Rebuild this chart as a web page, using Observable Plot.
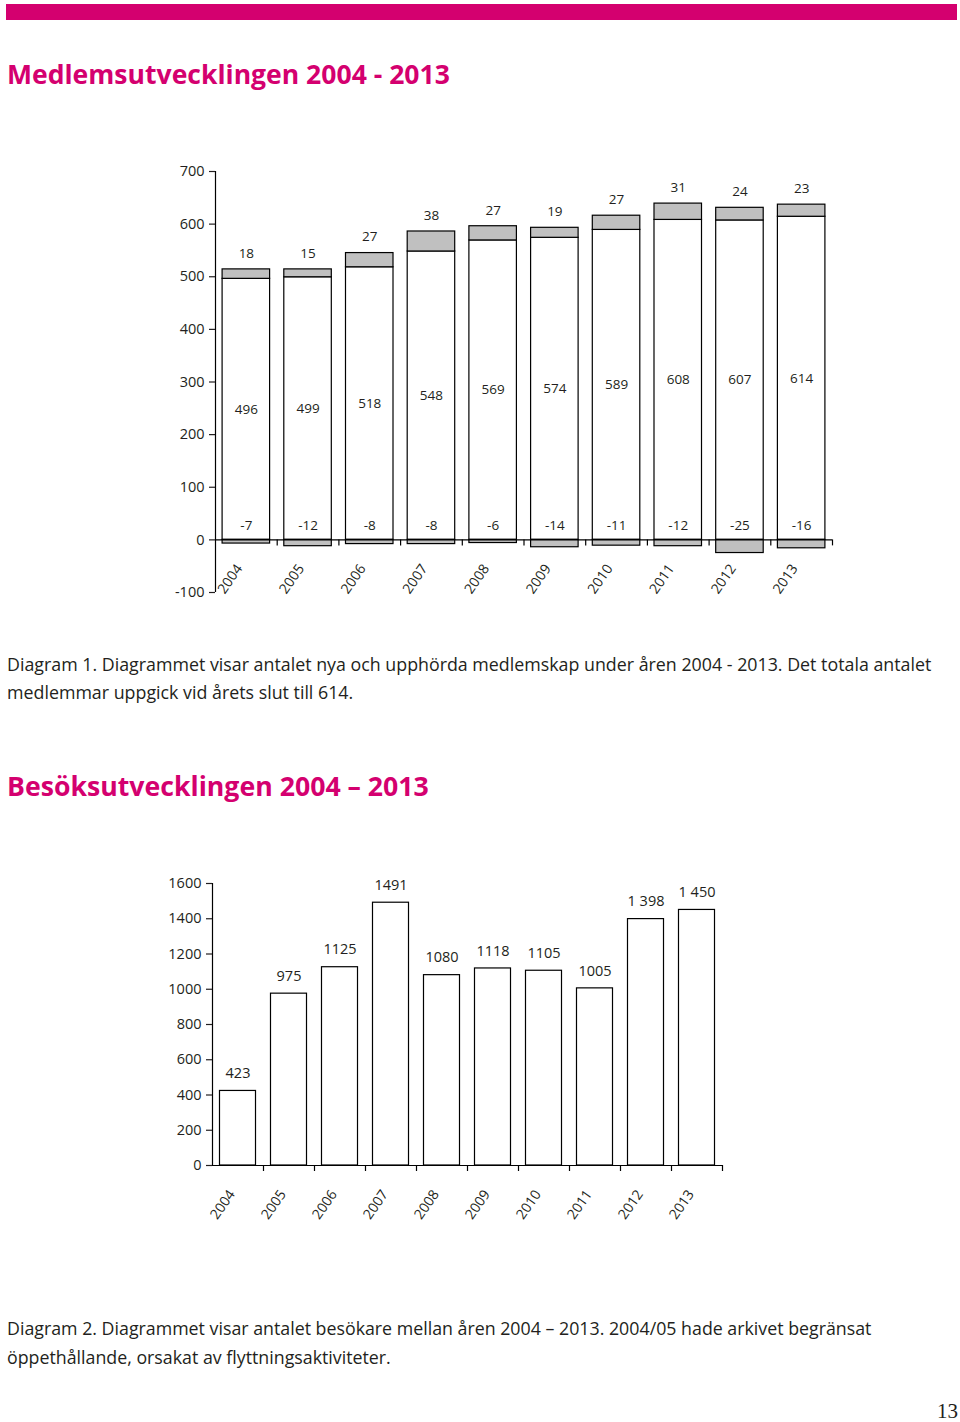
<!DOCTYPE html>
<html><head><meta charset="utf-8">
<script src="https://cdn.jsdelivr.net/npm/d3@7"></script>
<script src="https://cdn.jsdelivr.net/npm/@observablehq/plot@0.6"></script>
<style>
html,body{margin:0;padding:0;background:#fff;overflow:hidden}
#page{position:relative;width:960px;height:1422px;font-family:"Open Sans",sans-serif;color:#231f20;overflow:hidden}
.abs{position:absolute;white-space:nowrap;line-height:1}
.title{color:#d4006f;font-weight:700}
.band{position:absolute;left:6px;top:4px;width:951px;height:16px;background:#d4006f}
.chart{position:absolute;left:0}
</style></head><body><div id="page"><div class="band"></div></div>
<script>
// ---------- data ----------
const years = ["2004","2005","2006","2007","2008","2009","2010","2011","2012","2013"];
const members = [496, 499, 518, 548, 569, 574, 589, 608, 607, 614];
const newMembers = [18, 15, 27, 38, 27, 19, 27, 31, 24, 23];
const endedMembers = [-7, -12, -8, -8, -6, -14, -11, -12, -25, -16];
const memberTicks = [-100, 0, 100, 200, 300, 400, 500, 600, 700];

const visitors = [423, 975, 1125, 1491, 1080, 1118, 1105, 1005, 1398, 1450];
const visitorLabels = ["423", "975", "1125", "1491", "1080", "1118", "1105", "1005", "1 398", "1 450"];
const visitorTicks = [0, 200, 400, 600, 800, 1000, 1200, 1400, 1600];

const title1 = "Medlemsutvecklingen 2004 - 2013";
const caption1 = ["Diagram 1. Diagrammet visar antalet nya och upphörda medlemskap under åren 2004 - 2013. Det totala antalet",
                  "medlemmar uppgick vid årets slut till 614."];
const title2 = "Besöksutvecklingen 2004 – 2013";
const caption2 = ["Diagram 2. Diagrammet visar antalet besökare mellan åren 2004 – 2013. 2004/05 hade arkivet begränsat",
                  "öppethållande, orsakat av flyttningsaktiviteter."];
const pageNumber = "13";

// ---------- page text ----------
const page = document.getElementById("page");
function addText(txt, cls, left, baseline, targetWidth, size, ascentRatio = 0.888) {
  const el = document.createElement("div");
  el.className = "abs " + cls;
  el.textContent = txt;
  el.style.left = left + "px";
  el.style.fontSize = "100px";
  page.appendChild(el);
  let fs = size;
  if (targetWidth) fs = 100 * targetWidth / el.getBoundingClientRect().width;
  el.style.fontSize = fs + "px";
  el.style.top = (baseline - ascentRatio * fs) + "px";
  return fs;
}
addText(title1, "title", 7, 85, 443);
const c1 = addText(caption1[0], "", 7, 671.5, 925);
addText(caption1[1], "", 7, 700, null, c1);
addText(title2, "title", 7, 797, 422);
const c2 = addText(caption2[0], "", 7, 1336, 865);
addText(caption2[1], "", 7, 1365, null, c2);
const pn = document.createElement("div");
pn.className = "abs";
pn.textContent = pageNumber;
pn.style.cssText += "font-family:'Liberation Serif',serif;font-size:21px;left:937px;top:" + (1419 - 0.8375 * 21) + "px";
page.appendChild(pn);

// ---------- chart 1 ----------
const gray = "#c0c0c0";
const ink = "#231f20";
const font = "'Open Sans', sans-serif";
const fmt = d => String(d);
const rows = years.map((year, i) => ({year, base: members[i], add: newMembers[i], lost: endedMembers[i]}));

const W = 960;
const ml1 = 215, mr1 = 128;
const step1 = (W - ml1 - mr1) / years.length;
const chart1 = Plot.plot({
  width: W, height: 470,
  marginTop: 21, marginBottom: 28, marginLeft: ml1, marginRight: mr1,
  style: {fontFamily: font, fontSize: "14px", color: ink, background: "transparent", overflow: "visible"},
  x: {domain: years, paddingInner: 0.23, paddingOuter: 0.115, round: false, axis: null},
  y: {domain: [-100, 700], label: null},
  marks: [
    Plot.barY(rows, {x: "year", y1: 0, y2: "base", fill: "white", stroke: "black", strokeWidth: 1.2}),
    Plot.barY(rows, {x: "year", y1: "base", y2: d => d.base + d.add, fill: gray, stroke: "black", strokeWidth: 1.2}),
    Plot.barY(rows, {x: "year", y1: 0, y2: "lost", fill: gray, stroke: "black", strokeWidth: 1.2}),
    Plot.ruleY([0], {stroke: "black", strokeWidth: 1.2}),
    Plot.ruleX(years, {x: d => d, y1: 0, y2: 0, insetBottom: -6, dx: step1 / 2, stroke: "black", strokeWidth: 1.2}),
    Plot.ruleX([years[0]], {x: d => d, y1: -100, y2: 700, dx: -step1 / 2, stroke: "black", strokeWidth: 1.2}),
    Plot.axisY({ticks: memberTicks, tickFormat: fmt, tickSize: 6, tickPadding: 5, label: null, fontSize: 14.5, strokeWidth: 1.2}),
    Plot.text(years, {x: d => d, y: 0, text: d => d, rotate: -55, textAnchor: "end", dx: -7, dy: 26, fontSize: 14, fill: ink}),
    Plot.text(rows, {x: "year", y: d => d.base / 2, text: d => String(d.base), fontSize: 13.5, fill: ink}),
    Plot.text(rows, {x: "year", y: d => d.base + d.add, text: d => String(d.add), dy: -16, fontSize: 13.5, fill: ink}),
    Plot.text(rows, {x: "year", y: 0, text: d => String(d.lost), dy: -14, fontSize: 13.5, fill: ink})
  ]
});
chart1.classList.add("chart");
chart1.style.top = "150px";
chart1.style.position = "absolute";
page.appendChild(chart1);

// ---------- chart 2 ----------
const vrows = years.map((year, i) => ({year, value: visitors[i], label: visitorLabels[i]}));
const ml2 = 212, mr2 = 238;
const step2 = (W - ml2 - mr2) / years.length;
const chart2 = Plot.plot({
  width: W, height: 364,
  marginTop: 23, marginBottom: 59, marginLeft: ml2, marginRight: mr2,
  style: {fontFamily: font, fontSize: "14px", color: ink, background: "transparent", overflow: "visible"},
  x: {domain: years, paddingInner: 0.294, paddingOuter: 0.147, round: false, axis: null},
  y: {domain: [0, 1600], label: null},
  marks: [
    Plot.barY(vrows, {x: "year", y: "value", fill: "white", stroke: "black", strokeWidth: 1.2}),
    Plot.ruleY([0], {stroke: "black", strokeWidth: 1.2}),
    Plot.ruleX(years, {x: d => d, y1: 0, y2: 0, insetBottom: -6, dx: step2 / 2, stroke: "black", strokeWidth: 1.2}),
    Plot.ruleX([years[0]], {x: d => d, y1: 0, y2: 1600, dx: -step2 / 2, stroke: "black", strokeWidth: 1.2}),
    Plot.axisY({ticks: visitorTicks, tickFormat: fmt, tickSize: 6, tickPadding: 5, label: null, fontSize: 14.5, strokeWidth: 1.2}),
    Plot.text(years, {x: d => d, y: 0, text: d => d, rotate: -55, textAnchor: "end", dx: -6, dy: 26, fontSize: 14, fill: ink}),
    Plot.text(vrows, {x: "year", y: "value", text: "label", dy: -17.5, fontSize: 14.5, fill: ink})
  ]
});
chart2.classList.add("chart");
chart2.style.top = "860px";
chart2.style.position = "absolute";
page.appendChild(chart2);
</script>
</body></html>
